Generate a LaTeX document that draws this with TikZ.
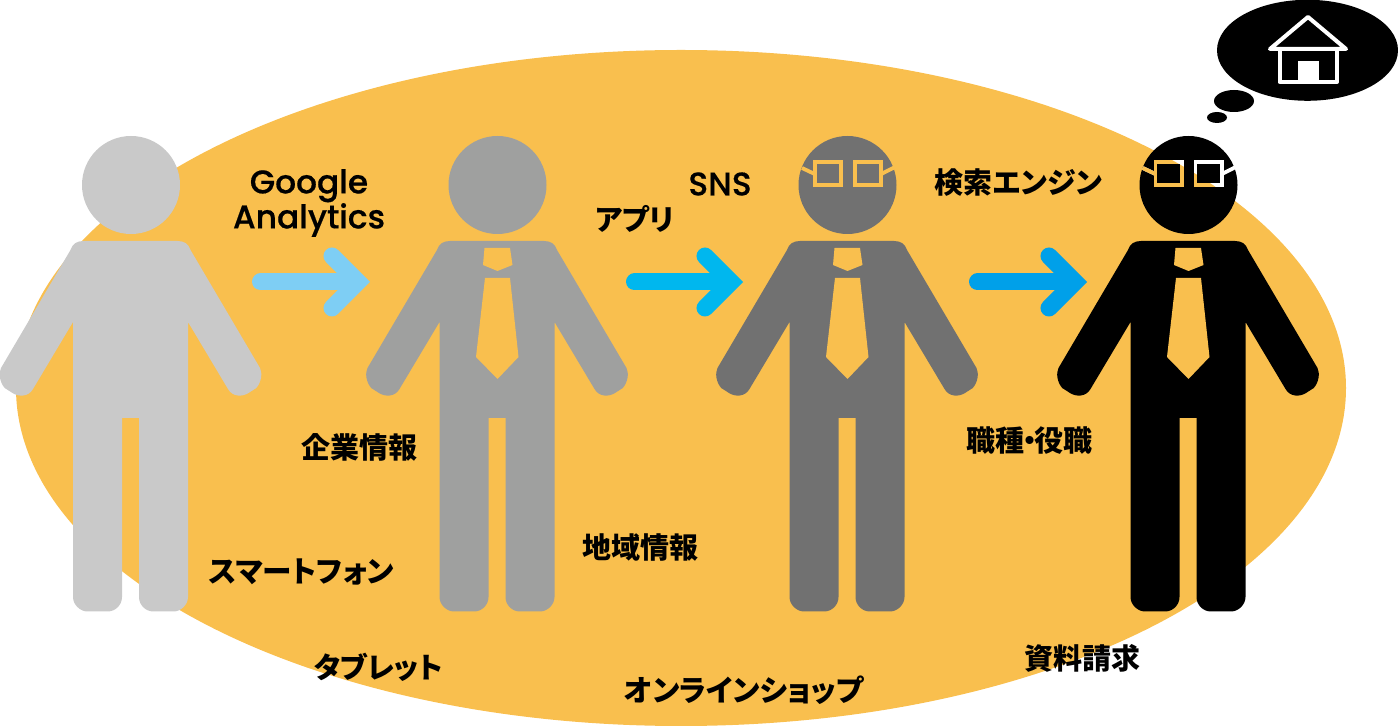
\documentclass[tikz,border=0pt]{standalone}
\usepackage{fontspec}
\usepackage{xcolor}
\usepackage{tikz}
\usetikzlibrary{arrows.meta}
\setmainfont[RawFeature={+palt}]{Noto Sans CJK JP}
\newfontfamily\latinfont[FakeBold=0.5]{Poppins Medium}
\definecolor{bgorange}{HTML}{F9BF4E}
\definecolor{arrowa}{HTML}{7ECEF4}
\definecolor{arrowb}{HTML}{00B7EE}
\definecolor{arrowc}{HTML}{00A0E9}
\definecolor{graya}{HTML}{C9C9C9}
\definecolor{grayb}{HTML}{9FA09F}
\definecolor{grayc}{HTML}{717171}
\tikzstyle{lbl}=[font=\fontsize{14.5}{17.5}\selectfont\bfseries,inner sep=0pt,align=center]
\tikzstyle{kana}=[lbl,font=\fontsize{14.8}{17.5}\selectfont\bfseries]
\tikzstyle{lat}=[font=\fontsize{16.4}{17.5}\selectfont\latinfont,inner sep=0pt,align=center]
\tikzstyle{arw}=[line width=8.5pt,line cap=round,-{Straight Barb[length=13pt,width=26pt,line cap=round,line join=miter]}]
\tikzstyle{bubble}=[fill=black]
\tikzstyle{frame}=[line width=1.9pt,line cap=butt]
\tikzstyle{roof}=[white,line width=2pt,line cap=round,line join=round]
\newcommand\bgshape{(681,388) ellipse [x radius=665,y radius=338]}
% one figure, #1 = centre x, #2 = colour
\newcommand\person[2]{
	\begin{scope}[shift={(#1,0)}]
	\fill[#2] (0.5,185) circle [radius=49];
	\fill[#2] (-47,241) .. controls (-54,241) and (-58,244) .. (-60,250) -- (-129.5,368)
		.. controls (-132,373) and (-131,382) .. (-125.8,388) -- (-118,393)
		.. controls (-112,397) and (-102,397) .. (-97.5,389) -- (-57.5,322) -- (-57.5,597)
		.. controls (-57.5,605) and (-50,611.5) .. (-43,611.5) -- (-23,611.5)
		.. controls (-15,611.5) and (-8.5,605) .. (-8.5,597) -- (-8.5,418) -- (8.5,418) -- (8.5,597)
		.. controls (8.5,605) and (15,611.5) .. (23,611.5) -- (43,611.5)
		.. controls (50,611.5) and (57.5,605) .. (57.5,597) -- (57.5,322) -- (97.5,389)
		.. controls (102,397) and (112,397) .. (118,393) -- (125.8,388)
		.. controls (131,382) and (132,373) .. (129.5,368) -- (60,250)
		.. controls (58,244) and (54,241) .. (47,241) -- cycle;
	\end{scope}
}
\newcommand\necktie[1]{
	\begin{scope}[shift={(#1,0)}]
	\fill[bgorange] (-12.5,248) -- (13,248) -- (15.5,265) -- (0.5,271) -- (-14,265) -- cycle;
	\fill[bgorange] (-12,278) -- (13,278) -- (21.5,357) -- (0.5,379) -- (-21,357) -- cycle;
	\end{scope}
}
\newcommand\glasses[2]{
	\begin{scope}[shift={(#1,0)}]
	\draw[frame,#2] (-33.3,161.7) rectangle (-6.7,185.3);
	\draw[frame,#2] (6.7,161.7) rectangle (33.3,185.3);
	\draw[frame,#2] (-46,168) -- (-33.3,174);
	\draw[frame,#2] (33.3,174) -- (47,167);
	\end{scope}
}

\begin{document}
\begin{tikzpicture}[x=.5pt,y=-.5pt]
	\useasboundingbox (0,0) rectangle (1398,726);
	\fill[bgorange] \bgshape;
	% figures
	\person{130.5}{graya}
	\person{497}{grayb}
	\necktie{497}
	\person{847}{grayc}
	\necktie{847}
	\glasses{848}{bgorange}
	\person{1188}{black}
	\necktie{1188}
	\glasses{1188.7}{white}
	\begin{scope}
		\clip \bgshape;
		\glasses{1188.7}{bgorange}
	\end{scope}
	% arrows
	\coordinate (a1s) at (260.5,282);
	\coordinate (a1e) at (370,282);
	\coordinate (a2s) at (634.5,282);
	\coordinate (a2e) at (743,282);
	\coordinate (a3s) at (977.5,282);
	\coordinate (a3e) at (1087,282);
	\draw[arw,arrowa] (a1s) -- (a1e);
	\draw[arw,arrowb] (a2s) -- (a2e);
	\draw[arw,arrowc] (a3s) -- (a3e);
	% thought bubble
	\fill[bubble] (1307.5,50.3) ellipse [x radius=90.5,y radius=50.5];
	\fill[bubble] (1234,101) ellipse [x radius=20,y radius=11];
	\fill[bubble] (1217,117.5) ellipse [x radius=10,y radius=5.5];
	\draw[roof] (1270,49) -- (1308,17) -- (1346,49) -- cycle;
	\draw[roof] (1279.5,49) -- (1279.5,82) -- (1337,82) -- (1337,49);
	\fill[white] (1298,61) rectangle (1319,82);
	% labels
	\node[lat] (ga) at (309,203) {Google\\Analytics};
	\node[lat] (sns) at (720,184) {SNS};
	\node[lbl] (app) at (634.5,219) {アプリ};
	\node[lbl] (search) at (1018.5,183) {検索エンジン};
	\node[lbl] (job) at (1029.5,441) {職種\kern-1pt・\kern-1pt役職};
	\node[lbl] (corp) at (359.5,447) {企業情報};
	\node[lbl] (area) at (640,547) {地域情報};
	\node[kana] (phone) at (301.5,572) {スマートフォン};
	\node[lbl] (tablet) at (378.5,667) {タブレット};
	\node[kana] (shop) at (744,690) {オンラインショップ};
	\node[lbl] (docs) at (1082,658) {資料請求};
\end{tikzpicture}
\end{document}
